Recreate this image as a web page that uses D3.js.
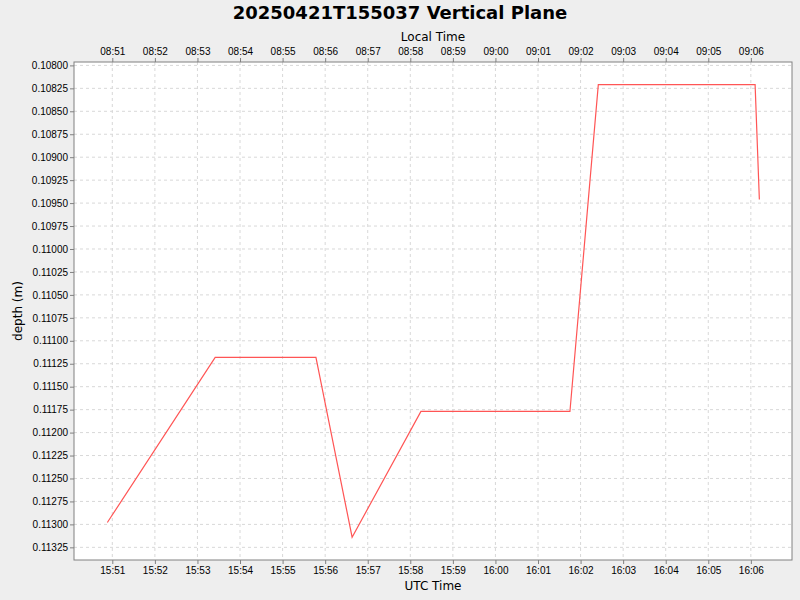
<!DOCTYPE html>
<html>
<head>
<meta charset="utf-8">
<script src="https://cdn.jsdelivr.net/npm/d3@7"></script>
<style>
  body { margin: 0; background: #eeeeee; }
  svg { display: block; font-family: "DejaVu Sans", sans-serif; }
  .tick text { font-size: 10px; fill: #000; }
  .tick line { stroke: #808080; }
  .domain { stroke: none; }
  .grid line { stroke: #d8d8d8; stroke-dasharray: 3,3; }
</style>
</head>
<body>
<div id="chart"></div>
<script>
// UTC sample times and depth readings
var times = ["15:50:53", "15:53:25", "15:55:47", "15:56:38", "15:58:15",
             "16:01:45", "16:02:25", "16:06:06", "16:06:12"];
var depths = [0.11298, 0.11118, 0.11118, 0.11314, 0.11177,
              0.11177, 0.10821, 0.10821, 0.10946];
var localOffsetHours = -7;
var titleText = "20250421T155037 Vertical Plane";

var svgWidth = 800;
var svgHeight = 600;
var margin = { top: 62, right: 8, bottom: 40, left: 74 };
var chartWidth = svgWidth - margin.left - margin.right;
var chartHeight = svgHeight - margin.top - margin.bottom;

var parseTime = d3.utcParse("%Y-%m-%d %H:%M:%S");
var data = times.map(function(t, i) {
  return { time: parseTime("2025-04-21 " + t), depth: depths[i] };
});

var svg = d3.select("#chart")
  .append("svg")
  .attr("width", svgWidth)
  .attr("height", svgHeight);

var chartGroup = svg.append("g")
  .attr("transform", `translate(${margin.left}, ${margin.top})`);

// x scale (UTC)
var xTimeScale = d3.scaleUtc()
  .domain([parseTime("2025-04-21 15:50:06"), parseTime("2025-04-21 16:06:58")])
  .range([0, chartWidth]);

// y scale, depth grows downward
var yDepthScale = d3.scaleLinear()
  .domain([0.107963, 0.113388])
  .range([0, chartHeight]);

var xTicks = d3.utcMinute.every(1).range(
  parseTime("2025-04-21 15:51:00"), parseTime("2025-04-21 16:06:30"));
var yTicks = d3.range(0, 22).map(function(i) { return 0.108 + i * 0.00025; });

// plot background
chartGroup.append("rect")
  .attr("width", chartWidth)
  .attr("height", chartHeight)
  .attr("fill", "#ffffff");

// gridlines
chartGroup.append("g")
  .attr("class", "grid")
  .selectAll("line")
  .data(xTicks)
  .enter()
  .append("line")
  .attr("x1", d => xTimeScale(d))
  .attr("x2", d => xTimeScale(d))
  .attr("y1", 0)
  .attr("y2", chartHeight);

chartGroup.append("g")
  .attr("class", "grid")
  .selectAll("line")
  .data(yTicks)
  .enter()
  .append("line")
  .attr("x1", 0)
  .attr("x2", chartWidth)
  .attr("y1", d => yDepthScale(d))
  .attr("y2", d => yDepthScale(d));

// axes
var bottomAxis = d3.axisBottom(xTimeScale)
  .tickValues(xTicks)
  .tickSize(4)
  .tickPadding(3)
  .tickFormat(d3.utcFormat("%H:%M"));

var topAxis = d3.axisTop(xTimeScale)
  .tickValues(xTicks)
  .tickSize(4)
  .tickPadding(3)
  .tickFormat(function(d) {
    return d3.utcFormat("%H:%M")(d3.utcHour.offset(d, localOffsetHours));
  });

var leftAxis = d3.axisLeft(yDepthScale)
  .tickValues(yTicks)
  .tickSize(4)
  .tickPadding(2)
  .tickFormat(d3.format(".5f"));

chartGroup.append("g")
  .attr("transform", `translate(0, ${chartHeight})`)
  .call(bottomAxis);

chartGroup.append("g")
  .call(topAxis);

chartGroup.append("g")
  .call(leftAxis);

// plot outline
chartGroup.append("rect")
  .attr("width", chartWidth)
  .attr("height", chartHeight)
  .attr("fill", "none")
  .attr("stroke", "#808080")
  .attr("stroke-width", 1);

// depth line
var depthLine = d3.line()
  .x(d => xTimeScale(d.time))
  .y(d => yDepthScale(d.depth));

chartGroup.append("path")
  .datum(data)
  .attr("d", depthLine)
  .attr("fill", "none")
  .attr("stroke", "#ff5555")
  .attr("stroke-width", 1.2);

// titles and axis labels
svg.append("text")
  .attr("x", 400)
  .attr("y", 19)
  .attr("text-anchor", "middle")
  .attr("font-size", "18px")
  .attr("font-weight", "bold")
  .text(titleText);

svg.append("text")
  .attr("x", margin.left + chartWidth / 2)
  .attr("y", 41)
  .attr("text-anchor", "middle")
  .attr("font-size", "12px")
  .text("Local Time");

svg.append("text")
  .attr("x", margin.left + chartWidth / 2)
  .attr("y", 590)
  .attr("text-anchor", "middle")
  .attr("font-size", "12px")
  .text("UTC Time");

svg.append("text")
  .attr("transform", "rotate(-90)")
  .attr("x", -(margin.top + chartHeight / 2))
  .attr("y", 22)
  .attr("text-anchor", "middle")
  .attr("font-size", "12px")
  .text("depth (m)");
</script>
</body>
</html>
